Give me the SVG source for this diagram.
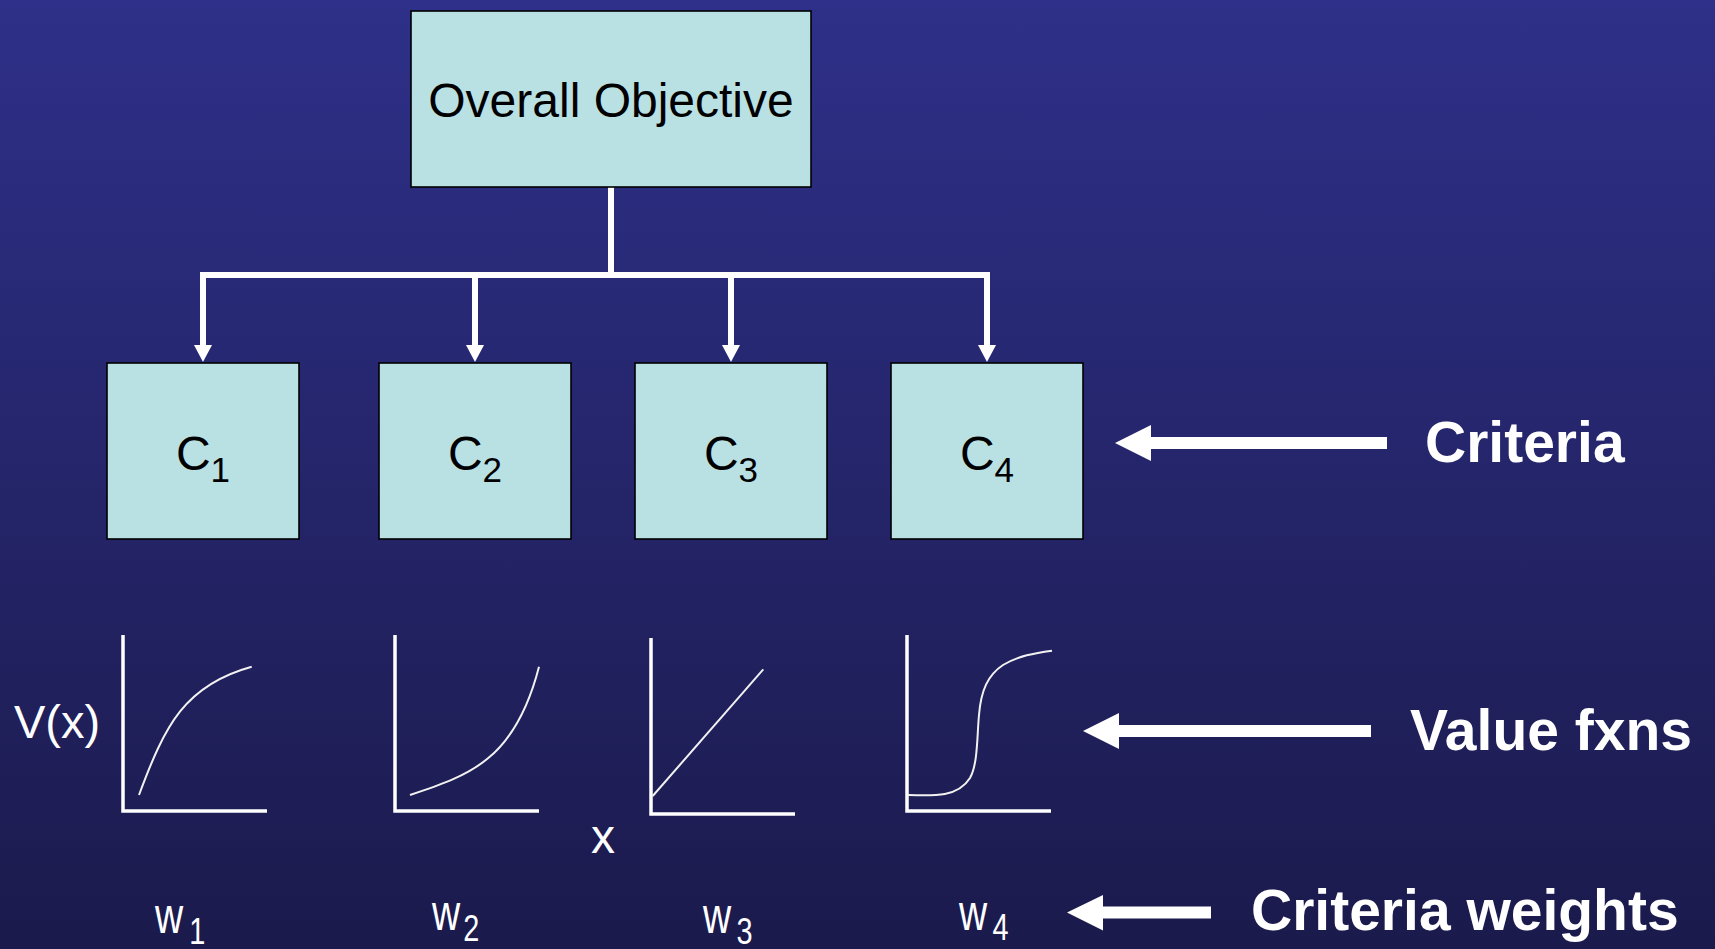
<svg xmlns="http://www.w3.org/2000/svg" width="1715" height="949" viewBox="0 0 1715 949">
  <defs>
    <linearGradient id="bg" x1="0" y1="0" x2="0" y2="1">
      <stop offset="0" stop-color="#2E3089"/>
      <stop offset="1" stop-color="#1B1A4C"/>
    </linearGradient>
    <style>
      .box { fill: #B9E0E3; stroke: #000; stroke-width: 1.6; }
      .boxtxt { font-family: "Liberation Sans", Arial, sans-serif; font-size: 48px; fill: #000; text-anchor: middle; }
      .conn { fill: none; stroke: #fff; stroke-width: 6; stroke-linejoin: miter; }
      .head { fill: #fff; }
      .axis { fill: none; stroke: #fff; stroke-width: 3.5; stroke-linejoin: miter; }
      .curve { fill: none; stroke: #F2F2F2; stroke-width: 2; }
      .lbl { font-family: "Liberation Sans", Arial, sans-serif; fill: #fff; }
      .big { font-family: "Liberation Sans", Arial, sans-serif; font-weight: bold; font-size: 57px; fill: #fff; }
    </style>
  </defs>

  <rect x="0" y="0" width="1715" height="949" fill="url(#bg)"/>

  <g id="connectors">
    <path class="conn" d="M611,187 V275"/>
    <path class="conn" d="M203,346 V275 H987 V346"/>
    <path class="conn" d="M475,275 V346"/>
    <path class="conn" d="M731,275 V346"/>
    <polygon class="head" points="194,345 212,345 203,362"/>
    <polygon class="head" points="466,345 484,345 475,362"/>
    <polygon class="head" points="722,345 740,345 731,362"/>
    <polygon class="head" points="978,345 996,345 987,362"/>
  </g>

  <g id="objective">
    <rect class="box" x="411" y="11" width="400" height="176"/>
    <text class="boxtxt" x="611" y="117">Overall Objective</text>
  </g>

  <g id="c1">
    <rect class="box" x="107" y="363" width="192" height="176"/>
    <text class="boxtxt" x="203" y="470">C<tspan font-size="35" dy="12">1</tspan></text>
  </g>
  <g id="c2">
    <rect class="box" x="379" y="363" width="192" height="176"/>
    <text class="boxtxt" x="475" y="470">C<tspan font-size="35" dy="12">2</tspan></text>
  </g>
  <g id="c3">
    <rect class="box" x="635" y="363" width="192" height="176"/>
    <text class="boxtxt" x="731" y="470">C<tspan font-size="35" dy="12">3</tspan></text>
  </g>
  <g id="c4">
    <rect class="box" x="891" y="363" width="192" height="176"/>
    <text class="boxtxt" x="987" y="470">C<tspan font-size="35" dy="12">4</tspan></text>
  </g>

  <g id="value-functions">
    <text class="lbl" x="14" y="738" font-size="47">V(x)</text>
    <g id="vf1">
      <path class="axis" d="M123,635 V811 H267"/>
      <path class="curve" d="M139,795 C165,725 185,685 251.7,666.7"/>
    </g>
    <g id="vf2">
      <path class="axis" d="M395,635 V811 H539"/>
      <path class="curve" d="M410,795 C470,775 515,760 539,666.7"/>
    </g>
    <g id="vf3">
      <path class="axis" d="M651,638 V814 H795"/>
      <path class="curve" d="M652.7,796 L763.3,669.3"/>
    </g>
    <g id="vf4">
      <path class="axis" d="M907,635 V811 H1051"/>
      <path class="curve" d="M908,795 C935,796 958,797 970,778 C978,764 977,735 979,715 C981,690 988,675 1003,665 C1018,656 1035,653 1052,650.7"/>
    </g>
    <text class="lbl" x="591" y="853" font-size="48">x</text>
  </g>

  <g id="weights">
    <text class="lbl" font-size="50" transform="translate(155,933) scale(0.78,1)">w<tspan x="44" dy="11" font-size="37">1</tspan></text>
    <text class="lbl" font-size="50" transform="translate(432,930) scale(0.78,1)">w<tspan x="40" dy="11" font-size="37">2</tspan></text>
    <text class="lbl" font-size="50" transform="translate(703,933) scale(0.78,1)">w<tspan x="43" dy="11" font-size="37">3</tspan></text>
    <text class="lbl" font-size="50" transform="translate(959,930) scale(0.78,1)">w<tspan x="43" dy="10" font-size="37">4</tspan></text>
  </g>

  <g id="criteria-label">
    <path class="head" d="M1115,443 L1151,425 L1151,437 L1387,437 L1387,449 L1151,449 L1151,461 Z"/>
    <text class="big" x="1425" y="462">Criteria</text>
  </g>
  <g id="value-label">
    <path class="head" d="M1083,731 L1119,713 L1119,725 L1371,725 L1371,737 L1119,737 L1119,749 Z"/>
    <text class="big" x="1410" y="750">Value fxns</text>
  </g>
  <g id="weights-label">
    <path class="head" d="M1067,912.5 L1103,895 L1103,906.5 L1211,906.5 L1211,918.5 L1103,918.5 L1103,930.5 Z"/>
    <text class="big" x="1251" y="930">Criteria weights</text>
  </g>
</svg>
